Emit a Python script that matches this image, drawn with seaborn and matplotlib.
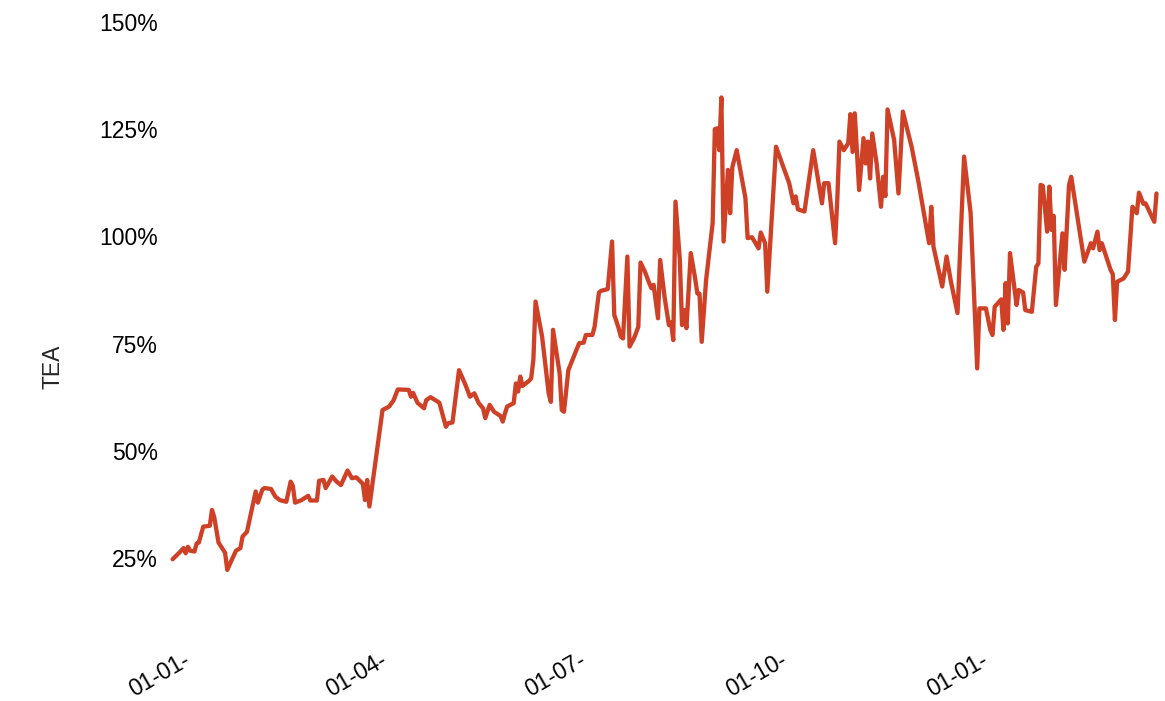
import pandas as pd
import seaborn as sns
import matplotlib.pyplot as plt
import matplotlib.ticker as mticker
from matplotlib.transforms import ScaledTranslation

# days counted from 2021-01-01, TEA in percent
days = [-7, -4, -2, -1, 0, 1, 3, 4, 5, 7, 10, 11, 12, 14, 17, 18, 20, 22, 24, 25,
        27, 31, 32, 34, 35, 38, 40, 42, 45, 47, 48, 49, 52, 55, 56, 59, 60, 62, 63, 66,
        68, 70, 73, 75, 77, 79, 80, 81, 82, 83, 89, 92, 94, 96, 101, 102, 103, 105, 108, 109,
        111, 115, 118, 119, 121, 124, 127, 129, 131, 133, 135, 136, 138, 140, 143, 144, 145, 146, 149, 150,
        151, 152, 153, 156, 157, 158, 159, 162, 165, 166, 167, 170, 171, 172, 174, 178, 179, 181, 182, 185,
        186, 188, 189, 192, 194, 195, 197, 198, 199, 201, 202, 204, 206, 207, 209, 211, 212, 213, 215, 216,
        218, 220, 221, 222, 223, 225, 226, 227, 228, 230, 232, 233, 234, 235, 237, 240, 241, 242, 243, 244,
        245, 247, 248, 249, 251, 255, 256, 258, 261, 262, 264, 265, 269, 275, 277, 278, 279, 282, 286, 290,
        291, 293, 296, 297, 298, 300, 302, 303, 304, 305, 307, 309, 310, 311, 312, 313, 315, 317, 318, 319,
        320, 323, 325, 327, 331, 334, 339, 340, 341, 345, 347, 349, 352, 355, 358, 361, 362, 365, 367, 368,
        369, 372, 373, 374, 375, 376, 379, 380, 382, 383, 386, 388, 389, 390, 391, 393, 394, 395, 396, 397,
        400, 401, 403, 404, 410, 413, 414, 416, 417, 418, 422, 423, 424, 425, 428, 430, 432, 434, 435, 437,
        438, 442, 443]
tea = [24.7, 26.2, 27.3, 26.1, 27.6, 26.7, 26.5, 28.4, 28.6, 32.3, 32.5, 36.2, 34.6, 28.6, 26.2, 22.2, 24.5, 26.7, 27.3, 30.0,
       31.1, 40.5, 37.9, 40.9, 41.3, 41.1, 39.3, 38.5, 38.1, 42.8, 41.8, 37.9, 38.5, 39.5, 38.4, 38.4, 43.0, 43.2, 41.3, 44.0,
       42.8, 42.0, 45.4, 43.6, 43.8, 42.8, 42.3, 38.5, 43.2, 37.0, 59.5, 60.3, 61.7, 64.3, 64.2, 62.6, 63.5, 61.2, 59.9, 61.8,
       62.5, 61.2, 55.6, 56.4, 56.6, 68.8, 65.3, 62.6, 63.4, 61.1, 59.9, 57.6, 60.7, 59.1, 58.1, 56.8, 58.7, 60.3, 61.1, 65.7,
       63.8, 67.3, 65.1, 66.3, 66.9, 71.2, 84.8, 76.6, 63.4, 61.4, 78.2, 68.1, 59.5, 59.1, 68.8, 73.9, 75.1, 75.2, 77.0, 77.0,
       78.9, 86.9, 87.3, 87.7, 98.8, 81.7, 78.6, 76.6, 76.2, 95.3, 74.3, 76.2, 78.9, 93.9, 91.8, 89.1, 87.9, 88.7, 80.9, 94.5,
       85.9, 79.3, 79.9, 75.8, 108.1, 94.5, 79.3, 82.8, 78.6, 96.1, 90.2, 86.7, 86.6, 75.4, 89.8, 103.1, 125.0, 125.2, 120.1, 132.4,
       98.8, 115.5, 105.4, 116.1, 120.1, 108.9, 99.6, 99.8, 97.2, 100.9, 98.4, 87.1, 120.9, 112.4, 107.7, 109.3, 106.3, 105.8, 120.1, 107.7,
       112.4, 112.4, 98.4, 108.5, 122.1, 120.1, 121.7, 128.5, 119.7, 128.7, 110.8, 122.9, 117.0, 122.1, 113.5, 124.0, 117.0, 106.9, 113.9, 109.4,
       129.6, 122.5, 110.0, 129.1, 120.9, 113.1, 98.4, 106.9, 97.6, 88.3, 95.3, 89.4, 82.1, 118.6, 105.4, 69.2, 83.2, 83.2, 78.2, 77.0,
       83.6, 85.3, 78.2, 89.1, 79.7, 96.1, 84.0, 87.5, 86.9, 82.8, 82.4, 92.9, 93.7, 112.0, 111.8, 101.1, 111.6, 101.5, 104.8, 84.0,
       100.7, 92.2, 112.0, 113.9, 94.1, 98.4, 97.2, 101.1, 96.8, 98.4, 92.2, 91.2, 80.5, 89.4, 90.2, 91.8, 106.9, 105.4, 110.2, 107.6,
       107.7, 103.4, 110.0]

tick_dates = ['2021-01-01', '2021-04-01', '2021-07-01', '2021-10-01', '2022-01-01']
tick_labels = ['01-01-', '01-04-', '01-07-', '01-10-', '01-01-']
y_ticks = [25, 50, 75, 100, 125, 150]

start = pd.Timestamp('2021-01-01')
df = pd.DataFrame({'date': start + pd.to_timedelta(days, unit='D'), 'TEA': tea})

sns.set_style('white')
plt.rcParams['font.family'] = ['Liberation Sans', 'DejaVu Sans']

fig = plt.figure(figsize=(11.65, 7.01), dpi=100)
ax = fig.add_axes([0.1416, 0.1123, 0.8584, 0.8686])

sns.lineplot(data=df, x='date', y='TEA', color='#cf4127', linewidth=3.1, estimator=None, ax=ax)

ax.set_xlim(start - pd.Timedelta(days=10.5), start + pd.Timedelta(days=446.9))
ax.set_ylim(10, 152)
ax.set_yticks(y_ticks)
ax.yaxis.set_major_formatter(mticker.FuncFormatter(lambda v, p: f'{v:.0f}%'))
ax.set_xticks(pd.to_datetime(tick_dates))
ax.set_xticklabels(tick_labels, rotation=30, ha='right')
ax.tick_params(axis='both', length=0, labelsize=16.5, colors='black')
ax.tick_params(axis='y', pad=5)
ax.tick_params(axis='x', pad=19)

# nudge the rotated date labels a little to the right
shift = ScaledTranslation(6 / 100, 0, fig.dpi_scale_trans)
for lbl in ax.get_xticklabels():
    lbl.set_transform(lbl.get_transform() + shift)

ax.set_xlabel('')
ax.set_ylabel('TEA', fontsize=16.5)
ax.yaxis.set_label_coords(-0.1, 0.42)

sns.despine(ax=ax, left=True, bottom=True)
ax.grid(False)

fig.savefig('out.png', dpi=100)
